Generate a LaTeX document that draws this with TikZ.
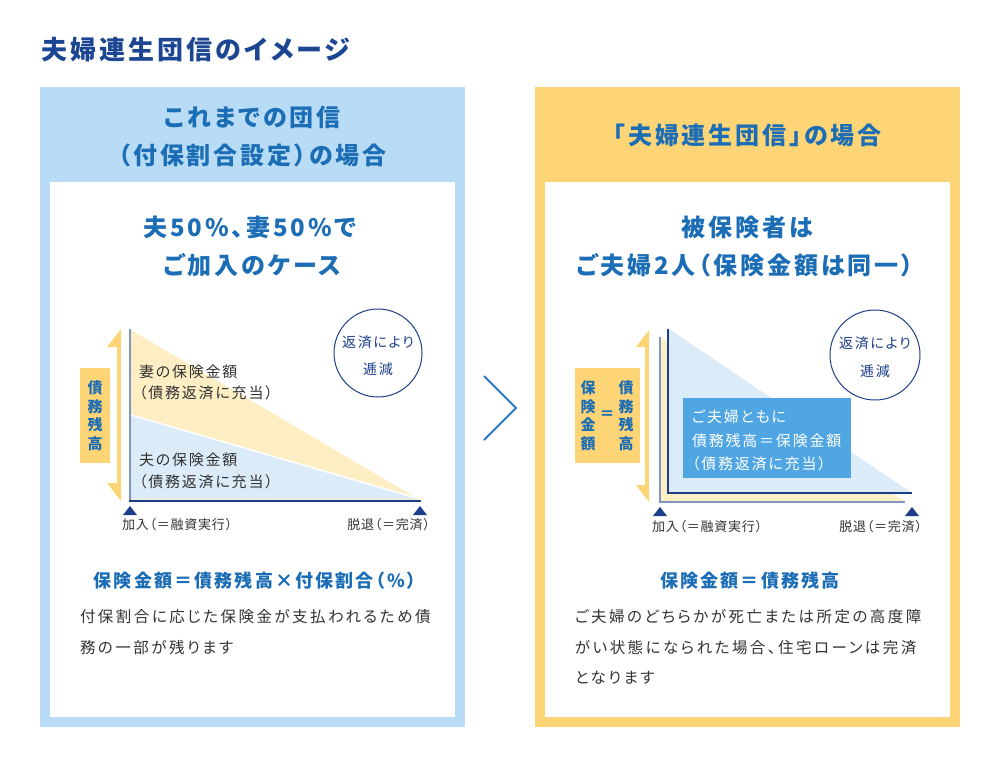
\documentclass[tikz,border=0pt]{standalone}
\usepackage{fontspec}
\setmainfont{Noto Sans CJK JP}[LetterSpace=12, RawFeature=+palt]
\newfontfamily\jpn{Noto Sans CJK JP}[LetterSpace=6, RawFeature=+palt]
\newfontfamily\jpw{Noto Sans CJK JP}[LetterSpace=16, RawFeature=+palt]
\definecolor{navy}{HTML}{1C4592}
\definecolor{hblue}{HTML}{1B6DB5}
\definecolor{lpanel}{HTML}{B8DCF5}
\definecolor{rpanel}{HTML}{FED576}
\definecolor{ylight}{HTML}{FDEEC4}
\definecolor{blight}{HTML}{DCEBF8}
\definecolor{axisgray}{HTML}{8096C0}
\definecolor{axisnavy}{HTML}{1D3F8A}
\definecolor{boxblue}{HTML}{4FA6E2}
\definecolor{bodytxt}{HTML}{333333}
\definecolor{chev}{HTML}{2A78C6}
\newcommand\fz[1]{\fontsize{#1}{#1}\selectfont}
\tikzset{
  t/.style={inner sep=0pt, outer sep=0pt},
  head/.style={t, text=hblue, font=\fz{24}\bfseries},
  sub/.style={t, text=hblue, font=\fz{24}\bfseries},
  clab/.style={t, text=bodytxt, font=\fz{15}, anchor=west},
  alab/.style={t, text=bodytxt, font=\jpn\fz{13}},
  circ/.style={draw=axisnavy, line width=1pt, fill=white},
  ctxt/.style={t, text=axisnavy, font=\fz{14}},
  vtxt/.style={t, text=hblue, font=\fontsize{15}{18.5}\selectfont\bfseries, align=center},
  formula/.style={t, text=hblue, font=\fz{18}\bfseries},
  body/.style={t, text=bodytxt, font=\jpw\fz{15.5}, anchor=west},
  marker/.style={fill=axisnavy},
  yarrow/.style={fill=rpanel}
}
\begin{document}
\begin{tikzpicture}[x=1pt,y=-1pt]
\useasboundingbox (0,0) rectangle (1000,769);
\fill[white] (0,0) rectangle (1000,769);

% title
\node[t, text=navy, font=\fz{26}\bfseries, anchor=west] (title) at (41,50) {夫婦連生団信のイメージ};

% panels
\fill[lpanel] (40,87) rectangle (465,727);
\fill[white] (50,182) rectangle (455,717);
\fill[rpanel] (535,87) rectangle (960,727);
\fill[white] (545,182) rectangle (950,717);

% chevron
\draw[chev, line width=2pt] (484,376) -- (516,408) -- (484,440);

% ---------- left panel ----------
\node[head] (lh1) at (252.5,117) {これまでの団信};
\node[head] (lh2) at (252.5,155) {（付保割合設定）の場合};
\node[sub] (ls1) at (250,227) {夫50\%、妻50\%で};
\node[sub] (ls2) at (252.5,265) {ご加入のケース};

% chart
\fill[ylight] (131,330) -- (420,500) -- (131,500) -- cycle;
\fill[blight] (131,415) -- (420,499) -- (131,499) -- cycle;
\draw[white, line width=1.5pt] (131,415) -- (420,499);
\draw[axisgray, line width=2pt] (130,329) -- (130,501);
\draw[axisnavy, line width=1.8pt] (129,501) -- (421,501);

% yellow double arrow
\fill[yarrow] (117,346) rectangle (121,484);
\fill[yarrow] (121,329) -- (107,347) -- (121,347) -- cycle;
\fill[yarrow] (121,501) -- (107,483) -- (121,483) -- cycle;
\fill[rpanel] (80,368) rectangle (110,463);
\node[vtxt] (lv) at (95,416) {債\\務\\残\\高};

\node[clab] (l1) at (139,372) {妻の保険金額};
\node[clab] (l2) at (139,393) {（債務返済に充当）};
\node[clab] (l3) at (139,460) {夫の保険金額};
\node[clab] (l4) at (139,482) {（債務返済に充当）};

\draw[circ] (378,353) circle (44);
\node[ctxt] (lc1) at (378,342) {返済により};
\node[ctxt] (lc2) at (378,369) {逓減};

\fill[marker] (130,506) -- (137,515) -- (123,515) -- cycle;
\fill[marker] (420,506) -- (427,515) -- (413,515) -- cycle;
\node[alab, anchor=west] (la1) at (122,525) {加入（＝融資実行）};
\node[alab, anchor=east] (la2) at (430,525) {脱退（＝完済）};

\node[formula] (lf) at (255,581) {保険金額＝債務残高×付保割合（\%）};
\node[body] (lb1) at (80,617) {付保割合に応じた保険金が支払われるため債};
\node[body] (lb2) at (80,648) {務の一部が残ります};

% ---------- right panel ----------
\node[head] (rh1) at (747.5,135) {「夫婦連生団信」の場合};
\node[sub] (rs1) at (747.5,227) {被保険者は};
\node[sub] (rs2) at (745,265) {ご夫婦2人（保険金額は同一）};

% back layer
\fill[ylight] (661,338) -- (905,502) -- (661,502) -- cycle;
\draw[axisgray, line width=2pt] (660,337) -- (660,502) -- (905,502);
% front layer
\fill[blight] (669,329) -- (912,493) -- (669,493) -- cycle;
\draw[axisnavy, line width=1.5pt] (668,329) -- (668,493) -- (912,493);

% yellow double arrow
\fill[yarrow] (645,346) rectangle (649,485);
\fill[yarrow] (649,330) -- (636,347) -- (649,347) -- cycle;
\fill[yarrow] (649,502) -- (636,485) -- (649,485) -- cycle;
\fill[rpanel] (575,368) rectangle (640,463);
\node[vtxt] (rv1) at (588,416) {保\\険\\金\\額};
\node[vtxt] (rveq) at (607,415) {＝};
\node[vtxt] (rv2) at (626,416) {債\\務\\残\\高};

\fill[boxblue] (683,398) rectangle (851,478);
\node[clab, text=white] (rb1) at (692,417) {ご夫婦ともに};
\node[clab, text=white] (rb2) at (692,441) {債務残高＝保険金額};
\node[clab, text=white] (rb3) at (692,464) {（債務返済に充当）};

\draw[circ] (875,355) circle (45);
\node[ctxt] (rc1) at (875,343) {返済により};
\node[ctxt] (rc2) at (875,371) {逓減};

\fill[marker] (660,507) -- (667,516) -- (653,516) -- cycle;
\fill[marker] (912,507) -- (919,516) -- (905,516) -- cycle;
\node[alab, anchor=west] (ra1) at (652,527) {加入（＝融資実行）};
\node[alab, anchor=east] (ra2) at (922,527) {脱退（＝完済）};

\node[formula] (rf) at (750,581) {保険金額＝債務残高};
\node[body] (rb4) at (575,617) {ご夫婦のどちらかが死亡または所定の高度障};
\node[body] (rb5) at (575,648) {がい状態になられた場合、住宅ローンは完済};
\node[body] (rb6) at (575,678) {となります};
\end{tikzpicture}
\end{document}
